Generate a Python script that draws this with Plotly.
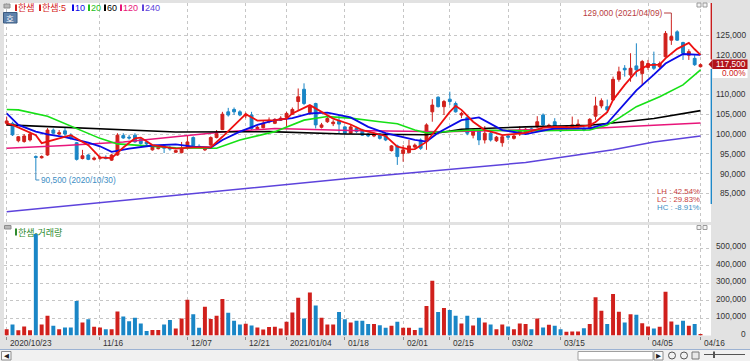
import plotly.graph_objects as go

W, H = 750, 361

# ---------------- data ----------------
trade_days = {
    "2020/10": [23, 26, 27, 28, 29, 30],
    "2020/11": [2, 3, 4, 5, 6, 9, 10, 11, 12, 13, 16, 17, 18, 19, 20, 23, 24, 25, 26, 27, 30],
    "2020/12": [1, 2, 3, 4, 7, 8, 9, 10, 11, 14, 15, 16, 17, 18, 21, 22, 23, 24, 28, 29, 30],
    "2021/01": [4, 5, 6, 7, 8, 11, 12, 13, 14, 15, 18, 19, 20, 21, 22, 25, 26, 27, 28, 29],
    "2021/02": [1, 2, 3, 4, 5, 8, 9, 10, 15, 16, 17, 18, 19, 22, 23, 24, 25, 26],
    "2021/03": [2, 3, 4, 5, 8, 9, 10, 11, 12, 15, 16, 17, 18, 19, 22, 23, 24, 25, 26, 29, 30, 31],
    "2021/04": [1, 2, 5, 6, 7, 8, 9, 12, 13, 14, 15, 16],
}
dates = [f"{ym}/{d:02d}" for ym, days in trade_days.items() for d in days]

opens = [102700, 102700, 98300, 98100, 98500, 94300, 94000, 94700, 101000, 100000,
         100800, 99700, 97800, 93800, 94700, 93600, 93900, 94100, 93400, 94700,
         99600, 99200, 99700, 98600, 98000, 96000, 96300, 97000, 96600, 95400,
         95300, 96800, 99100, 96900, 96000, 97200, 99100, 101100, 105600, 106200,
         105600, 104600, 104800, 101300, 101600, 103100, 102700, 103500, 104200, 105000,
         108200, 111300, 105400, 107700, 101700, 103100, 102600, 103200, 101800, 100200,
         101400, 101000, 100000, 99500, 100000, 99700, 95800, 97000, 95100, 95300,
         96700, 98500, 98100, 105600, 109300, 106900, 108800, 107700, 104800, 104200,
         99700, 100800, 98500, 100200, 98300, 97800, 99500, 98900, 100000, 100200,
         101300, 101800, 104800, 101800, 103100, 101400, 101400, 101700, 101800, 101400,
         101400, 104500, 107100, 106900, 108600, 113800, 116600, 114900, 117200, 115300,
         116800, 117800, 117000, 119500, 123700, 125800, 123100, 119900, 119100, 117000]
highs = [104400, 103100, 99500, 100000, 100600, 94600, 94600, 101500, 101400, 101000,
         101500, 100200, 98000, 96000, 94900, 94300, 94500, 94600, 95000, 100200,
         100200, 99800, 100200, 99000, 98300, 97200, 97000, 97300, 97000, 96000,
         98000, 99700, 99400, 97400, 96600, 99400, 101000, 105600, 106600, 106700,
         106000, 105400, 105600, 102000, 103400, 104200, 104000, 104500, 105600, 106700,
         111500, 112800, 107300, 107900, 102800, 104300, 103500, 104800, 102000, 102300,
         101800, 101300, 100300, 100400, 100300, 100000, 97200, 97300, 97200, 98500,
         97600, 98900, 102700, 108800, 109500, 108600, 110700, 108200, 105600, 104800,
         101400, 101000, 102000, 100600, 99500, 99600, 100000, 99800, 102000, 101500,
         101600, 104500, 105200, 102600, 104000, 101700, 102200, 104400, 103700, 101700,
         104000, 109400, 109000, 108700, 114500, 117000, 117400, 120400, 122900, 118700,
         118700, 120800, 118300, 126000, 129000, 126200, 123300, 121400, 119900, 117800]
lows = [102100, 99500, 97900, 97800, 98100, 90500, 93800, 94500, 100000, 99700,
        99400, 98600, 93300, 93600, 93400, 93300, 93500, 93600, 93200, 94500,
        98800, 98600, 97800, 97300, 97200, 95800, 96100, 95200, 95800, 95200,
        95100, 96100, 96800, 96400, 95700, 97000, 98900, 101000, 104400, 104800,
        104500, 104000, 101000, 101100, 101400, 102700, 102500, 103300, 101800, 104800,
        106000, 107300, 104800, 101400, 101400, 102800, 102000, 100200, 99900, 100000,
        100300, 99500, 99200, 99200, 98600, 98200, 95600, 92200, 93000, 95100,
        96400, 96000, 96000, 103100, 106700, 104800, 107300, 105400, 104000, 99700,
        98900, 97200, 97600, 98100, 98000, 96800, 98500, 98600, 99500, 99800,
        100600, 101600, 102000, 101500, 101500, 100500, 101100, 101400, 101500, 100700,
        101200, 103500, 106500, 105600, 108400, 113200, 114500, 113200, 114500, 112400,
        116200, 116200, 116600, 119300, 122500, 123500, 118700, 118700, 117200, 116800]
closes = [103300, 99800, 99300, 99500, 100000, 94100, 94300, 101000, 100200, 100300,
          100000, 98900, 93600, 94500, 93600, 93900, 94000, 93800, 94700, 99700,
          99000, 99000, 98000, 97600, 97500, 96800, 96600, 96400, 96200, 95800,
          96400, 98000, 97000, 96600, 96400, 99100, 100100, 105000, 104800, 105600,
          104800, 105000, 101400, 101700, 102700, 103500, 103700, 104000, 105200, 106200,
          109400, 107700, 106900, 102300, 102300, 103900, 103000, 102500, 100200, 101800,
          100600, 99700, 99500, 100000, 98900, 98500, 97000, 94300, 96000, 97000,
          97200, 96400, 102300, 107300, 106900, 108200, 108200, 105600, 105200, 100200,
          101000, 98500, 100200, 98500, 99200, 99300, 99200, 99500, 101000, 101200,
          100900, 103100, 102300, 102200, 101800, 100800, 101800, 102300, 102500, 101000,
          103700, 107100, 108400, 106100, 113800, 115700, 116200, 116600, 116200, 118300,
          117800, 116600, 117800, 125400, 124600, 123700, 120400, 120800, 117500, 117500]
volumes = [36000, 63000, 30000, 51000, 30000, 580000, 63000, 113000, 55000, 36000,
           46000, 46000, 197000, 74000, 93000, 50000, 46000, 36000, 36000, 137000,
           109000, 82000, 101000, 69000, 25000, 32000, 32000, 63000, 88000, 40000,
           97000, 204000, 122000, 44000, 164000, 94000, 113000, 208000, 130000, 84000,
           63000, 67000, 57000, 46000, 34000, 48000, 50000, 40000, 78000, 132000,
           216000, 97000, 246000, 172000, 101000, 63000, 63000, 134000, 93000, 74000,
           84000, 84000, 65000, 65000, 59000, 44000, 55000, 78000, 44000, 44000,
           31000, 44000, 168000, 313000, 134000, 157000, 145000, 113000, 69000, 113000,
           57000, 101000, 74000, 63000, 36000, 63000, 51000, 36000, 69000, 65000,
           36000, 97000, 46000, 61000, 55000, 36000, 21000, 23000, 23000, 42000,
           65000, 218000, 141000, 65000, 237000, 136000, 74000, 122000, 118000, 70000,
           52000, 40000, 50000, 250000, 80000, 61000, 84000, 55000, 65000, 8000]

ma5_idx = [0, 1, 5, 6, 9, 11, 14, 16, 18, 20, 22, 23, 25, 29, 32, 35, 37, 41, 43, 46,
           48, 49, 52, 53, 56, 59, 61, 65, 67, 69, 70, 72, 74, 76, 77, 78, 80, 82, 84, 85,
           89, 92, 94, 97, 100, 101, 102, 103, 104, 106, 108, 110, 112, 113, 115, 117, 118, 119]
ma5_val = [102700, 102300, 99700, 97700, 98900, 99700, 97200, 94100, 93900, 96600,
           98900, 99100, 97200, 96300, 96600, 96600, 99300, 105000, 103400, 103500,
           103900, 105200, 107300, 106500, 103900, 102400, 101000, 99500, 96800, 96100,
           96200, 98000, 101800, 105600, 107100, 106100, 103100, 101000, 100200, 99700,
           100300, 101600, 101800, 101700, 102200, 103000, 104300, 105500, 108600, 112400,
           115800, 117400, 117500, 119100, 121500, 123000, 121400, 120000]
ma10_idx = [0, 2, 5, 7, 10, 14, 16, 18, 21, 23, 25, 29, 32, 35, 37, 40, 43, 46, 49, 52,
            55, 59, 62, 65, 70, 72, 74, 78, 81, 85, 89, 94, 100, 103, 105, 108, 111, 113, 116, 119]
ma10_val = [105200, 102300, 100600, 99900, 99200, 97800, 96900, 95500, 96300, 96700,
            97100, 97400, 96800, 96600, 98500, 100600, 102300, 103500, 104000, 105200,
            105400, 104200, 101800, 100200, 98500, 98100, 100300, 103500, 104200, 101000,
            100000, 101400, 101400, 102700, 106000, 111000, 115000, 117800, 120200, 120000]
ma20_idx = [0, 2, 7, 10, 13, 16, 19, 22, 29, 36, 40, 46, 51, 55, 59, 64, 67, 70, 72, 80,
            89, 100, 103, 105, 108, 112, 116, 119]
ma20_val = [106200, 106100, 104500, 102700, 100800, 98900, 97500, 97200, 96500, 96400,
            98500, 100600, 103500, 104400, 104000, 103100, 102600, 101000, 100300, 101000,
            100800, 101000, 102300, 104000, 106900, 109400, 112400, 116200]
ma60_idx = [0, 14, 29, 45, 58, 72, 78, 89, 100, 106, 111, 119]
ma60_val = [102300, 101400, 100500, 100600, 100000, 99800, 101200, 101800, 102200, 103100, 103900, 105900]
ma120_idx = [0, 10, 20, 29, 37, 46, 59, 75, 89, 100, 111, 119]
ma120_val = [96400, 97100, 98000, 99400, 100500, 101400, 100900, 100600, 101000, 101400, 102200, 102800]
ma240_idx = [0, 29, 59, 89, 104, 111, 119]
ma240_val = [80400, 84600, 88800, 92800, 96000, 98000, 99500]

tick_idx = [0, 16, 31, 41, 48, 58, 68, 76, 86, 95, 110, 119]
tick_text = ["2020/10/23", "11/16", "12/07", "12/21", "2021/01/04", "01/18",
             "02/01", "02/15", "03/02", "03/15", "04/05", "04/16"]
price_grid = [85000, 90000, 95000, 100000, 105000, 110000, 115000, 120000, 125000]
price_labels = [85000, 90000, 95000, 100000, 105000, 110000, 120000, 125000]
vol_ticks = [0, 100000, 200000, 300000, 400000, 500000]

legend_names = ["한샘", "한샘:5", "10", "20", "60", "120", "240"]
stock_name = "한샘"
last_price = 117500
last_change = "0.00%"

# ---------------- style ----------------
RED = "#d0201c"
BLUE = "#1a86c6"
MA_COLORS = {"5": "#ee1010", "10": "#0a0ae6", "20": "#16e016", "60": "#000000",
             "120": "#e8157a", "240": "#5d43dc"}
SANS = "Liberation Sans, Arial, sans-serif"
FS = 8.3
MIX = "Liberation Sans, Noto Sans CJK KR, sans-serif"
CJK = "Noto Sans CJK KR, sans-serif"


def fx(x):
    return x / W


def fy(y):
    return 1 - y / H


fig = go.Figure()
fig.add_trace(go.Candlestick(
    x=dates, open=opens, high=highs, low=lows, close=closes,
    increasing=dict(line=dict(color=RED, width=1), fillcolor=RED),
    decreasing=dict(line=dict(color=BLUE, width=1), fillcolor=BLUE),
    whiskerwidth=0, xaxis="x", yaxis="y", hoverinfo="skip", showlegend=False))

for idx, vals, key, wd in [(ma240_idx, ma240_val, "240", 1.5), (ma120_idx, ma120_val, "120", 1.5),
                           (ma60_idx, ma60_val, "60", 1.6), (ma20_idx, ma20_val, "20", 1.6),
                           (ma10_idx, ma10_val, "10", 1.8), (ma5_idx, ma5_val, "5", 1.8)]:
    fig.add_trace(go.Scatter(x=[dates[i] for i in idx], y=vals, mode="lines",
                             line=dict(color=MA_COLORS[key], width=wd),
                             xaxis="x", yaxis="y", hoverinfo="skip", showlegend=False))

vol_colors = [RED if c >= o else BLUE for o, c in zip(opens, closes)]
fig.add_trace(go.Bar(x=dates, y=volumes, marker=dict(color=vol_colors, line=dict(width=0)),
                     xaxis="x2", yaxis="y2", hoverinfo="skip", showlegend=False))

grid = dict(showgrid=True, gridcolor="#c6c6c6", griddash="dot", gridwidth=1, zeroline=False,
            showline=False, fixedrange=True)
xdom = [fx(4), fx(711)]
fig.update_layout(
    width=W, height=H, margin=dict(l=0, r=0, t=0, b=0),
    paper_bgcolor="#e2e2e2", plot_bgcolor="#ffffff", showlegend=False, bargap=0.32,
    xaxis=dict(domain=xdom, type="category", categoryorder="array", categoryarray=dates,
               range=[-0.46, 120.8], tickvals=[dates[i] for i in tick_idx], showticklabels=False,
               ticks="", rangeslider=dict(visible=False), anchor="y", **grid),
    xaxis2=dict(domain=xdom, type="category", categoryorder="array", categoryarray=dates,
                matches="x", tickvals=[dates[i] for i in tick_idx], showticklabels=False,
                ticks="outside", ticklen=3, tickcolor="#8a8a8a", anchor="y2", **grid),
    yaxis=dict(domain=[fy(222), fy(3)], range=[77782, 133080], tickvals=price_grid,
               showticklabels=False, anchor="x", **grid),
    yaxis2=dict(domain=[fy(335.5), fy(225)], range=[0, 631400], tickvals=vol_ticks[1:],
                showticklabels=False, anchor="x2", **grid),
)

ann = []
shapes = []


def text(x, y, s, color="#333333", size=FS, family=SANS, xanchor="left", yanchor="middle",
         xref="paper", yref="paper", **kw):
    ann.append(dict(x=x, y=y, text=s, showarrow=False, xref=xref, yref=yref, xanchor=xanchor,
                    yanchor=yanchor, borderpad=0,
                    font=dict(color=color, size=size, family=family), **kw))


def rect(x0, y0, x1, y1, fill, line=None, lw=1):
    shapes.append(dict(type="rect", xref="paper", yref="paper", x0=fx(x0), x1=fx(x1),
                       y0=fy(y1), y1=fy(y0), fillcolor=fill,
                       line=dict(color=line or fill, width=lw if line else 0), layer="above"))


# right-hand price labels
for v in price_labels:
    text(fx(747), v, f"{v:,}", yref="y", xanchor="right")
for v in vol_ticks:
    text(fx(747), v, f"{v:,}", yref="y2", xanchor="right", yshift=2)
# x labels
for i, t in zip(tick_idx, tick_text):
    text(dates[i], fy(343), t, xref="x2", xanchor="left", xshift=2.5)

# legend of the price panel
leg_colors = ["#d42020", "#d42020", MA_COLORS["10"], "#22c022", "#000000", MA_COLORS["120"], MA_COLORS["240"]]
leg_x = [15, 39, 72, 88, 104, 120, 142]
for name, col, x in zip(legend_names, leg_colors, leg_x):
    rect(x, 4.5, x + 2, 11, col)
    text(fx(x + 2.2), fy(8), name, color=col, size=9, family=MIX)
rect(4, 4, 10, 8, "#b8b8b8", "#8c8c8c")
rect(3.5, 12.5, 17, 23, "#5f82ab", "#3a5a80")
text(fx(10.3), fy(17.8), "호", color="#ffffff", size=8.5, family=CJK, xanchor="center")

# volume legend
rect(4.5, 225.5, 11, 229, "#b8b8b8", "#8c8c8c")
rect(15, 228.5, 17, 235.5, "#2e8b2e")
text(fx(17.2), fy(232), f"{stock_name}-거래량", color="#2e8b2e", size=9, family=MIX)

# small window icons
for y0 in (3, 225.5):
    rect(697, y0, 701, y0 + 4, "#f4f4f4", "#9a9a9a")
    rect(703, y0, 707, y0 + 4, "#f4f4f4", "#9a9a9a")

# high / low markers
hi = max(highs)
lo = min(lows)
hi_i = highs.index(hi)
lo_i = lows.index(lo)
HI_C = "#b83c3c"
LO_C = "#3d8ec4"
shapes.append(dict(type="line", xref="x", yref="y", x0=hi_i - 1.25, x1=hi_i, y0=130555, y1=130555,
                   line=dict(color=HI_C, width=1)))
shapes.append(dict(type="line", xref="x", yref="y", x0=hi_i, x1=hi_i, y0=130555, y1=hi,
                   line=dict(color=HI_C, width=1)))
text(hi_i - 1.3, 130555, f"{hi:,} ({dates[hi_i]})", xref="x", yref="y", xanchor="right", color=HI_C)
shapes.append(dict(type="line", xref="x", yref="y", x0=lo_i, x1=lo_i, y0=lo, y1=88390,
                   line=dict(color=LO_C, width=1)))
shapes.append(dict(type="line", xref="x", yref="y", x0=lo_i, x1=lo_i + 0.6, y0=88390, y1=88390,
                   line=dict(color=LO_C, width=1)))
text(lo_i + 0.65, 88390, f"{lo:,} ({dates[lo_i]})", xref="x", yref="y", color=LO_C)

last = closes[-1]
text(fx(656), fy(191.3), f"LH : {(hi / lo - 1) * 100:.2f}%", color="#c83c3c", size=7.8)
text(fx(656), fy(199.5), f"LC : {(last / lo - 1) * 100:.2f}%", color="#c83c3c", size=7.8)
text(fx(656), fy(207.7), f"HC : {(last / hi - 1) * 100:.2f}%", color=LO_C, size=7.8)

# current price marker on the axis
rect(710.6, 3, 712, 59.5, "#c81e1e")
rect(710.6, 69, 712, 204, "#1f88c8")
rect(712.5, 59.5, 747.5, 69, "#b3141a")
rect(712.5, 69, 747.5, 78, "#ffffff")
text(fx(746.5), fy(64.3), f"{last_price:,}", color="#ffffff", xanchor="right")
text(fx(746.5), fy(73.5), last_change, color="#d02020", xanchor="right")
shapes.append(dict(type="path", xref="paper", yref="paper",
                   path=f"M {fx(712.5)} {fy(60)} L {fx(708.5)} {fy(64.3)} L {fx(712.5)} {fy(68.6)} Z",
                   fillcolor="#b3141a", line=dict(width=0), layer="above"))

# bottom scroll strip
rect(0, 349.5, 750, 361, "#f1f1f1")
shapes.append(dict(type="line", xref="paper", yref="paper", x0=0, x1=1, y0=fy(349.5), y1=fy(349.5),
                   line=dict(color="#9cb2d2", width=1), layer="above"))
rect(1.5, 351.5, 11, 360, "#fbfbfb", "#8c8c8c")
text(fx(6.3), fy(355.8), "◀", color="#222222", size=6.5, family="DejaVu Sans", xanchor="center")
rect(578, 351.5, 653, 360, "#ffffff", "#a0a0a0")
rect(654, 351.5, 663, 360, "#fbfbfb", "#8c8c8c")
text(fx(658.5), fy(355.8), "▶", color="#222222", size=6.5, family="DejaVu Sans", xanchor="center")
for cx in (672, 684):
    shapes.append(dict(type="circle", xref="paper", yref="paper", x0=fx(cx - 3.5), x1=fx(cx + 3.5),
                       y0=fy(359), y1=fy(352), line=dict(color="#555555", width=1), layer="above"))
rect(692, 352, 699, 359, "#e8e8e8", "#777777")
shapes.append(dict(type="line", xref="paper", yref="paper", x0=fx(704), x1=fx(745), y0=fy(354.5),
                   y1=fy(354.5), line=dict(color="#555555", width=1), layer="above"))
rect(713, 351.5, 715, 358, "#555555")

fig.update_layout(annotations=ann, shapes=shapes)
fig.write_html("out.html", config={"displayModeBar": False, "staticPlot": True},
               post_script="document.body.style.margin='0';document.body.style.padding='0';"
                           "document.body.style.overflow='hidden';")
